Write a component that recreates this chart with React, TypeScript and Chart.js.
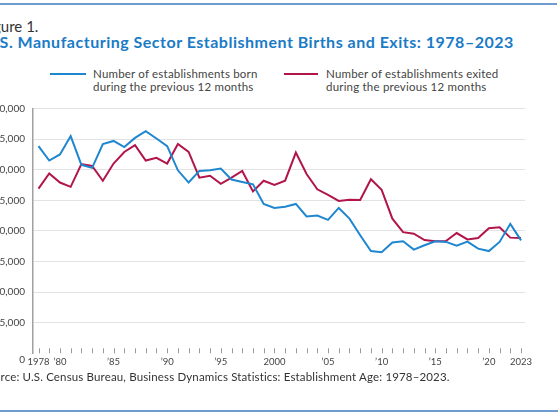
import React, { useEffect, useRef } from "react";
import { Chart, registerables } from "chart.js";

Chart.register(...registerables);

const years: number[] = [
  1978, 1979, 1980, 1981, 1982, 1983, 1984, 1985, 1986, 1987, 1988, 1989,
  1990, 1991, 1992, 1993, 1994, 1995, 1996, 1997, 1998, 1999, 2000, 2001,
  2002, 2003, 2004, 2005, 2006, 2007, 2008, 2009, 2010, 2011, 2012, 2013,
  2014, 2015, 2016, 2017, 2018, 2019, 2020, 2021, 2022, 2023,
];

const born: number[] = [
  33850, 31500, 32500, 35500, 30800, 30300, 34200, 34700, 33700, 35200, 36300, 35100,
  33850, 29900, 27900, 29800, 29900, 30200, 28400, 28000, 27600, 24400, 23750, 23950,
  24400, 22350, 22500, 21800, 23750, 22000, 19300, 16700, 16500, 18100, 18300, 16950,
  17650, 18300, 18200, 17600, 18250, 17100, 16700, 18200, 21150, 18450,
];

const exited: number[] = [
  26900, 29400, 27900, 27200, 30900, 30600, 28200, 31000, 32900, 34000, 31500, 31950,
  31000, 34200, 32900, 28700, 29000, 27700, 28700, 29800, 26450, 28200, 27500, 28200,
  32800, 29300, 26800, 25900, 24900, 25100, 25050, 28450, 26700, 22000, 19800, 19550,
  18500, 18300, 18350, 19650, 18600, 18850, 20450, 20600, 18900, 18850,
];

const xTickLabels: Record<number, string> = {
  1978: "1978",
  1980: "\u201980",
  1985: "\u201985",
  1990: "\u201990",
  1995: "\u201995",
  2000: "2000",
  2005: "\u201905",
  2010: "\u201910",
  2015: "\u201915",
  2020: "\u201920",
  2023: "2023",
};

const yTicks: number[] = [0, 5000, 10000, 15000, 20000, 25000, 30000, 35000, 40000];

const seriesLabels: string[][] = [
  ["Number of establishments born", "during the previous 12 months"],
  ["Number of establishments exited", "during the previous 12 months"],
];

const titleText = "U.S. Manufacturing Sector Establishment Births and Exits: 1978\u20132023";
const figureText = "Figure 1.";
const sourceText =
  "Source: U.S. Census Bureau, Business Dynamics Statistics: Establishment Age: 1978\u20132023.";

const BLUE = "#1f86d0";
const RED = "#b1154c";
const FONT = "Lato, 'Open Sans', sans-serif";

const tickMarksPlugin = {
  id: "tickMarks",
  afterDatasetsDraw(chart: any) {
    const { ctx, chartArea, scales } = chart;
    const xs = scales.x;
    const ys = scales.y;
    ctx.save();
    ctx.strokeStyle = "#9a9a9a";
    ctx.lineWidth = 1;
    years.forEach((yr) => {
      const px = Math.round(xs.getPixelForValue(yr)) + 0.5;
      ctx.beginPath();
      ctx.moveTo(px, chartArea.bottom - 5);
      ctx.lineTo(px, chartArea.bottom);
      ctx.stroke();
    });
    ctx.fillStyle = "#444";
    ctx.font = `10px ${FONT}`;
    ctx.textAlign = "right";
    ctx.textBaseline = "middle";
    ctx.fillText("0", chartArea.left - 7.5, ys.getPixelForValue(0) + 6);
    ctx.restore();
  },
};

function App() {
  const canvasRef = useRef<HTMLCanvasElement | null>(null);

  useEffect(() => {
    if (!canvasRef.current) return;
    const chart = new Chart(canvasRef.current, {
      type: "line",
      data: {
        datasets: [
          {
            label: seriesLabels[0].join(" "),
            data: years.map((y, i) => ({ x: y, y: born[i] })),
            borderColor: BLUE,
            borderWidth: 2,
            pointRadius: 0,
            tension: 0,
          },
          {
            label: seriesLabels[1].join(" "),
            data: years.map((y, i) => ({ x: y, y: exited[i] })),
            borderColor: RED,
            borderWidth: 2,
            pointRadius: 0,
            tension: 0,
          },
        ],
      },
      options: {
        animation: false,
        responsive: false,
        maintainAspectRatio: false,
        devicePixelRatio: 1,
        layout: { padding: { top: 11.7, right: 35, left: 0, bottom: 0 } },
        plugins: {
          legend: { display: false },
          tooltip: { enabled: false },
          title: { display: false },
        },
        scales: {
          x: {
            type: "linear",
            min: 1977.44,
            max: 2023.37,
            afterBuildTicks: (scale: any) => {
              scale.ticks = years.map((v) => ({ value: v }));
            },
            afterFit: (scale: any) => {
              scale.height = 21.7;
            },
            grid: { display: false, drawTicks: false },
            border: { display: false },
            ticks: {
              autoSkip: false,
              maxRotation: 0,
              minRotation: 0,
              padding: 3,
              color: "#444",
              font: { size: 9.5, family: FONT },
              callback: (v: any) => xTickLabels[Number(v)] ?? "",
            },
          },
          y: {
            min: 0,
            max: 40000,
            afterBuildTicks: (scale: any) => {
              scale.ticks = yTicks.map((v) => ({ value: v }));
            },
            afterFit: (scale: any) => {
              scale.width = 52.5;
            },
            grid: {
              color: (c: any) => (c.tick && c.tick.value === 0 ? "rgba(0,0,0,0)" : "#e3e3e3"),
              lineWidth: 1,
              drawTicks: false,
            },
            border: { display: true, color: "#a0a0a0", width: 1.5 },
            ticks: {
              padding: 7.5,
              color: "#444",
              font: { size: 10, family: FONT },
              callback: (v: any) => (Number(v) === 0 ? "" : Number(v).toLocaleString("en-US")),
            },
          },
        },
      },
      plugins: [tickMarksPlugin],
    });
    return () => chart.destroy();
  }, []);

  const textStyle: React.CSSProperties = {
    position: "absolute",
    fontFamily: FONT,
    whiteSpace: "nowrap",
    margin: 0,
  };

  const legendText: React.CSSProperties = {
    ...textStyle,
    top: 66.5,
    fontSize: 11.5,
    letterSpacing: "0.2px",
    lineHeight: "13px",
    color: "#444",
  };

  return (
    <div
      style={{
        position: "fixed",
        left: 0,
        top: 0,
        width: 560,
        height: 420,
        overflow: "hidden",
        background: "#fff",
      }}
    >
      <div style={{ position: "absolute", left: 0, top: 3, width: 557, height: 2, background: "#6e9bd0" }} />
      <div style={{ ...textStyle, left: -19, top: 16, fontSize: 15, lineHeight: "20px", color: "#333" }}>
        {figureText}
      </div>
      <div
        style={{
          ...textStyle,
          left: -16.8,
          top: 32,
          fontSize: 16,
          letterSpacing: "0.5px",
          lineHeight: "20px",
          fontWeight: 700,
          color: "#1a7bc6",
        }}
      >
        {titleText}
      </div>
      <div style={{ position: "absolute", left: 50, top: 73, width: 36, height: 2, background: BLUE }} />
      <div style={{ ...legendText, left: 93 }}>
        {seriesLabels[0][0]}
        <br />
        {seriesLabels[0][1]}
      </div>
      <div style={{ position: "absolute", left: 284, top: 73, width: 34, height: 2, background: RED }} />
      <div style={{ ...legendText, left: 326 }}>
        {seriesLabels[1][0]}
        <br />
        {seriesLabels[1][1]}
      </div>
      <canvas
        ref={canvasRef}
        width={580}
        height={280}
        style={{ position: "absolute", left: -20, top: 95, width: 580, height: 280 }}
      />
      <div
        style={{
          ...textStyle,
          left: -19,
          top: 370,
          fontSize: 11.5,
          letterSpacing: "0.15px",
          lineHeight: "14px",
          color: "#333",
        }}
      >
        {sourceText}
      </div>
      <div style={{ position: "absolute", left: 0, top: 410, width: 558, height: 2, background: "#6e9bd0" }} />
    </div>
  );
}

export default App;
